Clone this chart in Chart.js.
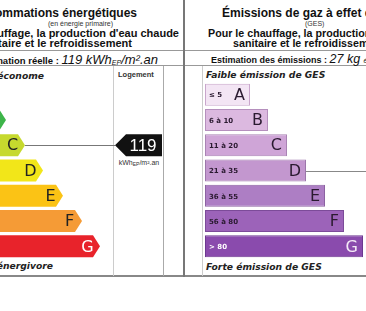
<!DOCTYPE html>
<html><head><meta charset="utf-8">
<script src="https://cdn.jsdelivr.net/npm/chart.js@4"></script>
<style>
html,body{margin:0;padding:0;background:#fff;}
#wrap{position:relative;width:366px;height:311px;overflow:hidden;font-family:"Liberation Sans",Arial,sans-serif;color:#111;}
.t{position:absolute;white-space:nowrap;line-height:1;}
.t sub{vertical-align:-1px;line-height:0;}
.v{font-family:"DejaVu Sans",Verdana,sans-serif;font-style:italic;font-weight:bold;font-size:9.2px;color:#222;}
.hl{position:absolute;height:0;border-top:1px solid #999;}
.vl{position:absolute;width:0;border-left:1px solid #bbb;}
canvas{position:absolute;}
</style></head>
<body><div id="wrap">
<div class="hl" style="left:0;width:366px;top:50px"></div>
<div class="hl" style="left:0;width:366px;top:65px"></div>
<div class="hl" style="left:0;width:366px;top:275px;border-top:2px solid #888"></div>
<div class="vl" style="left:113px;top:66px;height:210px;border-color:#ccc"></div>
<div class="vl" style="left:163px;top:66px;height:210px;border-color:#aaa"></div>
<div class="vl" style="left:183px;top:0;height:277px;border-left:2px solid #777"></div>
<div class="vl" style="left:202px;top:66px;height:210px;border-color:#ccc"></div>

<div class="t" style="right:229px;top:7px;font-size:12px;font-weight:bold">Consommations énergétiques</div>
<div class="t" style="left:48px;top:20px;font-size:7px;color:#333">(en énergie primaire)</div>
<div class="t" style="right:187px;top:28px;font-size:11px;font-weight:bold">Pour le chauffage, la production d'eau chaude</div>
<div class="t" style="right:234px;top:38px;font-size:11px;font-weight:bold">sanitaire et le refroidissement</div>
<div class="t" style="right:208px;top:53px;font-size:9.5px;font-weight:bold">Consommation réelle : <span style="font-size:13px;font-weight:normal;font-style:italic">119 kWh<sub style="font-size:7px">EP</sub>/m².an</span></div>
<div class="t v" style="right:322px;top:71px">Logement économe</div>
<div class="t" style="left:118px;top:71px;font-size:7.5px;font-weight:bold;color:#333">Logement</div>
<div class="t" style="left:115px;top:159px;width:48px;text-align:center;font-size:7px;color:#333">kWh<sub style="font-size:5px">EP</sub>/m².an</div>
<div class="t v" style="right:313px;top:261px">Logement énergivore</div>

<div class="t" style="left:222px;top:7px;font-size:12px;font-weight:bold">Émissions de gaz à effet de serre</div>
<div class="t" style="left:305px;top:20px;font-size:7px;color:#333">(GES)</div>
<div class="t" style="left:208px;top:28px;font-size:10.7px;font-weight:bold">Pour le chauffage, la production d'eau chaude</div>
<div class="t" style="left:233px;top:38px;font-size:10.7px;font-weight:bold">sanitaire et le refroidissement</div>
<div class="t" style="left:211px;top:53px;font-size:9px;font-weight:bold">Estimation des émissions : <span style="font-size:12.5px;font-weight:normal;font-style:italic">27 kg <span style="font-size:7px">éqCO2/m².an</span></span></div>
<div class="t v" style="left:206px;top:70px">Faible émission de GES</div>
<div class="t v" style="left:206px;top:262px">Forte émission de GES</div>

<canvas id="left" width="283" height="177" style="left:-100px;top:82px"></canvas>
<canvas id="right" width="161" height="177" style="left:205px;top:82px"></canvas>
</div>
<script>
const classes = ['A','B','C','D','E','F','G'];
const energyRanges = ['≤ 50','51 à 90','91 à 150','151 à 230','231 à 330','331 à 450','> 450'];
const energyBarLengths = [87,106,125,143,163,182,200];
const energyColors = ['#00a14b','#3db54a','#c6d92e','#f2e619','#fbc315','#f59b36','#e8232b'];
const energyValue = 119;
const energyClass = 'C';

const gesRanges = ['≤ 5','6 à 10','11 à 20','21 à 35','36 à 55','56 à 80','> 80'];
const gesBarLengths = [45,63,82,101,120,139,158];
const gesColors = ['#f3e5f4','#dcb9e0','#cfa5d7','#c397cf','#ad7ec4','#9c63b9','#8a4bad'];
const gesBorders = ['#c9a6cc','#b58fbd','#a983b4','#9c76aa','#8c62a2','#7c4b99','#6d3890'];
const gesValue = 27;
const gesClass = 'D';

const base = (lengths, max, extra) => ({
  type:'bar',
  data:{labels:classes,datasets:[extra(lengths)]},
  options:{
    responsive:false,animation:false,indexAxis:'y',
    layout:{padding:{left:0,right:max.pad,top:0,bottom:0}},
    scales:{x:{display:false,min:0,max:max.max},y:{display:false}},
    plugins:{legend:{display:false},tooltip:{enabled:false}}
  }
});

const arrowPlugin = {
  id:'arrows',
  afterDatasetsDraw(chart){
    const ctx = chart.ctx, meta = chart.getDatasetMeta(0);
    meta.data.forEach((el,i)=>{
      const h = el.height, top = el.y-h/2, bot = el.y+h/2;
      ctx.save();
      ctx.fillStyle = energyColors[i];
      ctx.beginPath();
      ctx.moveTo(el.base,top);ctx.lineTo(el.x-7,top);ctx.lineTo(el.x,el.y);
      ctx.lineTo(el.x-7,bot);ctx.lineTo(el.base,bot);ctx.closePath();ctx.fill();
      ctx.fillStyle = i===6?'#fff':'#222';
      ctx.font = '16px "DejaVu Sans"';
      ctx.textAlign='center';ctx.textBaseline='middle';
      ctx.fillText(classes[i],el.x-12.5,el.y+1);
      ctx.font = 'bold 7px "DejaVu Sans"';ctx.textAlign='left';
      ctx.fillText(energyRanges[i],el.base+4,el.y);
      ctx.restore();
    });
    const ci = classes.indexOf(energyClass), el = meta.data[ci];
    const y = chart.scales.y.getPixelForValue(ci), h = el.height;
    ctx.save();
    ctx.strokeStyle='#777';ctx.lineWidth=1;
    ctx.beginPath();ctx.moveTo(el.x,Math.round(y)+0.5);ctx.lineTo(215,Math.round(y)+0.5);ctx.stroke();
    ctx.fillStyle='#111';
    ctx.beginPath();ctx.moveTo(215,y);ctx.lineTo(226,y-h/2);ctx.lineTo(262,y-h/2);ctx.lineTo(262,y+h/2);ctx.lineTo(226,y+h/2);ctx.closePath();ctx.fill();
    ctx.fillStyle='#fff';ctx.font='17px "Liberation Sans"';ctx.textAlign='center';ctx.textBaseline='middle';
    ctx.fillText(String(energyValue),243,y+1);
    ctx.restore();
  }
};

const gesPlugin = {
  id:'gesLabels',
  afterDatasetsDraw(chart){
    const ctx = chart.ctx, meta = chart.getDatasetMeta(0);
    meta.data.forEach((el,i)=>{
      ctx.save();
      ctx.fillStyle = i===6?'#fff':'#2a1a30';
      ctx.textBaseline='middle';
      ctx.font='bold 7px "DejaVu Sans"';ctx.textAlign='left';
      ctx.fillText(gesRanges[i],el.base+4,el.y+1);
      ctx.font='16px "DejaVu Sans"';ctx.textAlign='right';
      ctx.fillStyle = i===6?'#f4eaf6':'#2a1a30';
      ctx.fillText(classes[i],el.x-5,el.y+1);
      ctx.restore();
    });
    const ci = classes.indexOf(gesClass), el = meta.data[ci];
    const y = Math.round(chart.scales.y.getPixelForValue(ci))+0.5;
    ctx.save();ctx.strokeStyle='#888';ctx.lineWidth=1;
    ctx.beginPath();ctx.moveTo(el.x,y);ctx.lineTo(chart.width,y);ctx.stroke();ctx.restore();
  }
};

new Chart(document.getElementById('left'), Object.assign(base(energyBarLengths,{max:213,pad:70},d=>({
  data:d,backgroundColor:'rgba(0,0,0,0)',borderWidth:0,barPercentage:0.87,categoryPercentage:1
})),{plugins:[arrowPlugin]}));

new Chart(document.getElementById('right'), Object.assign(base(gesBarLengths,{max:161,pad:0},d=>({
  data:d,backgroundColor:gesColors,borderColor:gesBorders,borderWidth:1,borderSkipped:false,barPercentage:0.87,categoryPercentage:1
})),{plugins:[gesPlugin]}));
</script>
</body></html>
